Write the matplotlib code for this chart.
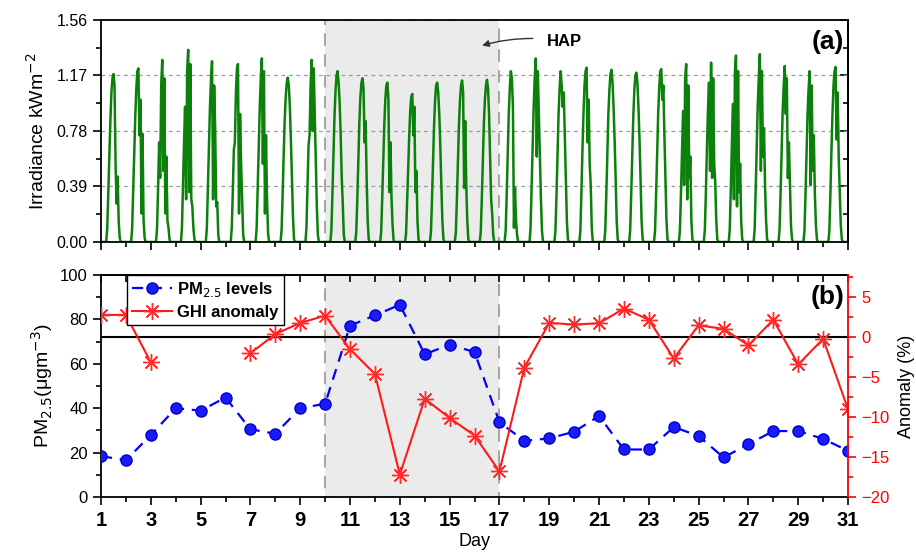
import numpy as np
import matplotlib.pyplot as plt
from matplotlib.patches import Rectangle

plt.rcParams['font.family'] = ['Liberation Sans', 'DejaVu Sans']

# ---- data ----
days = list(range(1, 32))

pm25 = [18.4, 16.6, 27.9, 40.0, 38.9, 44.8, 30.5, 28.5, 40.0, 42.0,
        77.2, 81.8, 86.6, 64.3, 68.6, 65.3, 33.7, 25.3, 26.4, 29.4,
        36.5, 21.4, 21.4, 31.5, 27.5, 17.8, 23.8, 29.7, 29.7, 26.2, 20.8]

# no anomaly values for days 4-6
ghi_anomaly = [2.8, 2.8, -3.15, np.nan, np.nan, np.nan, -2.0, 0.4, 1.8, 2.7,
               -1.5, -4.6, -17.2, -7.7, -10.1, -12.3, -16.8, -3.8, 1.8, 1.6,
               1.75, 3.6, 2.2, -2.65, 1.5, 1.05, -1.0, 2.2, -3.4, -0.2, -9.0]

# hourly irradiance (kW/m2), hours 06..18, one row per day (days 1..30)
irr_hours = list(range(6, 19))
irradiance = [
    [0.10, 0.35, 0.60, 0.85, 1.05, 1.15, 1.18, 1.10, 0.55, 0.27, 0.46, 0.15, 0.03],
    [0.10, 0.35, 0.62, 0.88, 1.08, 1.20, 1.22, 0.75, 1.00, 0.20, 0.76, 0.15, 0.03],
    [0.10, 0.38, 0.70, 0.45, 1.10, 1.28, 0.50, 1.15, 0.20, 0.60, 0.15, 0.10, 0.02],
    [0.10, 0.40, 0.70, 0.95, 0.30, 1.20, 1.35, 0.35, 1.25, 0.30, 0.25, 0.10, 0.02],
    [0.10, 0.38, 0.68, 0.95, 1.15, 1.27, 0.30, 1.10, 0.80, 0.25, 0.28, 0.05, 0.00],
    [0.10, 0.35, 0.65, 0.70, 1.05, 1.22, 1.25, 0.20, 0.90, 0.55, 0.30, 0.05, 0.00],
    [0.10, 0.38, 0.68, 0.95, 1.15, 1.29, 0.55, 1.20, 0.20, 0.75, 0.30, 0.06, 0.00],
    [0.08, 0.32, 0.60, 0.85, 1.02, 1.12, 1.155, 1.10, 0.95, 0.72, 0.45, 0.18, 0.02],
    [0.10, 0.38, 0.68, 0.75, 1.10, 1.28, 0.78, 1.22, 0.90, 0.55, 0.25, 0.05, 0.00],
    [0.08, 0.33, 0.62, 0.88, 1.06, 1.17, 1.20, 1.12, 0.98, 0.75, 0.45, 0.27, 0.05],
    [0.07, 0.30, 0.58, 0.84, 1.02, 1.12, 1.15, 1.08, 0.70, 0.85, 0.45, 0.15, 0.02],
    [0.07, 0.30, 0.56, 0.82, 1.00, 1.10, 1.12, 1.00, 0.35, 0.70, 0.30, 0.12, 0.01],
    [0.06, 0.27, 0.50, 0.74, 0.92, 1.02, 1.04, 0.75, 0.95, 0.35, 0.50, 0.15, 0.02],
    [0.07, 0.30, 0.56, 0.82, 1.00, 1.10, 1.12, 1.05, 0.90, 0.68, 0.40, 0.15, 0.02],
    [0.07, 0.30, 0.57, 0.83, 1.00, 1.10, 1.135, 1.05, 0.38, 0.85, 0.40, 0.15, 0.02],
    [0.07, 0.30, 0.57, 0.83, 1.00, 1.10, 1.14, 1.08, 0.90, 0.60, 0.30, 0.20, 0.05],
    [0.08, 0.33, 0.62, 0.90, 1.08, 1.20, 1.15, 0.95, 0.10, 0.38, 0.15, 0.05, 0.00],
    [0.10, 0.38, 0.68, 0.95, 1.15, 1.29, 0.60, 1.20, 0.90, 0.60, 0.30, 0.08, 0.00],
    [0.08, 0.33, 0.62, 0.90, 1.08, 1.20, 1.10, 0.95, 1.05, 0.75, 0.45, 0.15, 0.02],
    [0.08, 0.34, 0.64, 0.90, 1.10, 1.20, 1.225, 0.70, 1.00, 0.55, 0.40, 0.10, 0.00],
    [0.08, 0.33, 0.62, 0.90, 1.07, 1.18, 1.21, 1.12, 0.95, 0.72, 0.45, 0.15, 0.02],
    [0.08, 0.33, 0.62, 0.88, 1.06, 1.17, 1.19, 1.12, 0.95, 0.72, 0.45, 0.15, 0.02],
    [0.08, 0.33, 0.62, 0.90, 1.08, 1.20, 1.215, 1.00, 1.10, 0.75, 0.45, 0.15, 0.02],
    [0.09, 0.35, 0.65, 0.92, 0.40, 1.15, 1.25, 0.30, 1.10, 0.45, 0.60, 0.15, 0.02],
    [0.09, 0.35, 0.66, 0.93, 1.12, 0.50, 1.26, 0.45, 1.15, 0.55, 0.42, 0.15, 0.02],
    [0.09, 0.37, 0.68, 0.97, 0.30, 1.20, 1.31, 0.25, 1.20, 0.35, 0.55, 0.15, 0.02],
    [0.09, 0.37, 0.68, 0.97, 1.16, 1.32, 0.50, 1.20, 0.60, 0.80, 0.40, 0.15, 0.02],
    [0.09, 0.35, 0.65, 0.92, 1.10, 1.237, 0.90, 1.15, 0.45, 0.70, 0.40, 0.12, 0.02],
    [0.08, 0.33, 0.62, 0.90, 1.08, 1.20, 0.40, 1.10, 0.50, 0.75, 0.35, 0.12, 0.02],
    [0.08, 0.34, 0.64, 0.90, 1.10, 1.20, 1.23, 0.72, 1.05, 0.60, 0.35, 0.12, 0.02],
]

hap_start, hap_end = 10, 17

# build continuous time series (zero at night)
t_irr, v_irr = [], []
for i, prof in enumerate(irradiance):
    d = days[i]
    hrs = [5] + irr_hours + [19]
    vals = [0.0] + prof + [0.0]
    for h, val in zip(hrs, vals):
        t_irr.append(d + h / 24.0)
        v_irr.append(val)
t_irr = [days[0]] + t_irr + [days[-1]]
v_irr = [0.0] + v_irr + [0.0]

fig = plt.figure(figsize=(9.16, 5.58), dpi=100)
ax1 = fig.add_axes([0.1103, 0.5663, 0.8155, 0.3979])
ax2 = fig.add_axes([0.1103, 0.1093, 0.8155, 0.3979])

shade = '#ebebeb'
dash_grey = '#a8a8a8'

# ---- (a) irradiance ----
ax1.add_patch(Rectangle((hap_start, 0), hap_end - hap_start, 1.56, facecolor=shade,
                        edgecolor=dash_grey, linestyle=(0, (6, 4)), linewidth=1.5, zorder=0))
for yv in [0.39, 0.78, 1.17]:
    ax1.axhline(yv, color='#9a9a9a', linestyle=(0, (3, 3)), linewidth=0.9, zorder=1)
ax1.plot(t_irr, v_irr, color='#0b800b', linewidth=1.8, zorder=2)
ax1.set_xlim(1, 31)
ax1.set_ylim(0, 1.56)
ax1.set_yticks([0, 0.39, 0.78, 1.17, 1.56])
ax1.set_yticklabels(['0.00', '0.39', '0.78', '1.17', '1.56'])
ax1.set_yticks(np.arange(0.195, 1.56, 0.39), minor=True)
ax1.set_xticks(range(1, 32, 2))
ax1.set_xticks(range(2, 31, 2), minor=True)
ax1.tick_params(axis='x', which='both', labelbottom=False, direction='out')
ax1.tick_params(axis='x', which='major', length=6, width=1.2)
ax1.tick_params(axis='x', which='minor', length=3.5, width=1.2)
ax1.tick_params(axis='y', which='major', direction='out', length=6, width=1.2, labelsize=11.5)
ax1.tick_params(axis='y', which='minor', direction='out', length=3.5, width=1.2)
ax1r = ax1.secondary_yaxis('right')
ax1r.set_yticks([0, 0.39, 0.78, 1.17, 1.56])
ax1r.set_yticks(np.arange(0.195, 1.56, 0.39), minor=True)
ax1r.tick_params(which='both', direction='in', labelright=False, width=1.2)
ax1r.tick_params(which='major', length=6)
ax1r.tick_params(which='minor', length=3.5)
for s in ax1.spines.values():
    s.set_linewidth(1.3)
ax1r.spines['right'].set_linewidth(1.3)
ax1.set_ylabel('Irradiance kWm$^{-2}$', fontsize=14, labelpad=6)
ax1.annotate('', xy=(16.2, 1.375), xytext=(18.45, 1.43),
             arrowprops=dict(arrowstyle='-|>', color='#333333', lw=1.0,
                             mutation_scale=10, connectionstyle='arc3,rad=0.08'))
ax1.text(18.9, 1.41, 'HAP', fontsize=12, fontweight='bold', ha='left', va='center')
ax1.text(0.995, 0.90, '(a)', transform=ax1.transAxes, fontsize=19, fontweight='bold',
         ha='right', va='center')

# ---- (b) PM2.5 and GHI anomaly ----
ax2.add_patch(Rectangle((hap_start, 0), hap_end - hap_start, 100, facecolor=shade,
                        edgecolor=dash_grey, linestyle=(0, (6, 4)), linewidth=1.5, zorder=0))
pm_line, = ax2.plot(days, pm25, color='#0000ff', linestyle=(0, (5, 3.5)), linewidth=1.6,
                    marker='o', markersize=8, markerfacecolor='#1a1aff',
                    markeredgecolor='#0000cc', zorder=3)
ax2.set_xlim(1, 31)
ax2.set_ylim(0, 100)
ax2.set_yticks(range(0, 101, 20))
ax2.set_yticks(range(10, 100, 20), minor=True)
ax2.set_xticks(range(1, 32, 2))
ax2.set_xticks(range(2, 31, 2), minor=True)
ax2.tick_params(axis='x', which='major', direction='out', length=6, width=1.2,
                labelsize=14.5, pad=4)
ax2.tick_params(axis='x', which='minor', direction='out', length=3.5, width=1.2)
ax2.tick_params(axis='y', which='major', direction='out', length=6, width=1.2, labelsize=12)
ax2.tick_params(axis='y', which='minor', direction='out', length=3.5, width=1.2)
for lab in ax2.get_xticklabels():
    lab.set_fontweight('bold')
ax2t = ax2.secondary_xaxis('top')
ax2t.set_xticks(range(1, 32, 2))
ax2t.set_xticks(range(2, 31, 2), minor=True)
ax2t.tick_params(which='both', direction='in', labeltop=False, length=5, width=1.2)
ax2t.spines['top'].set_linewidth(1.3)
for s in ax2.spines.values():
    s.set_linewidth(1.3)
ax2.spines['right'].set_visible(False)
ax2.set_ylabel('PM$_{2.5}$(μgm$^{-3}$)', fontsize=14, labelpad=4)
ax2.set_xlabel('Day', fontsize=13, labelpad=2)

ax3 = ax2.twinx()
ax3.axhline(0, color='black', linewidth=1.5, zorder=1)
ghi_line, = ax3.plot(days, ghi_anomaly, color='#ff1a1a', linewidth=1.5,
                     marker=(8, 2, 0), markersize=12, markeredgewidth=1.0,
                     markeredgecolor='#ff2a2a', zorder=2)
ax3.set_ylim(-20, 7.8)
ax3.set_yticks(range(-20, 6, 5))
ax3.set_yticks(np.arange(-17.5, 8, 5), minor=True)
ax3.spines['right'].set_color('#ff0000')
ax3.spines['right'].set_linewidth(1.3)
for side in ['left', 'top', 'bottom']:
    ax3.spines[side].set_visible(False)
ax3.tick_params(axis='y', which='both', colors='#ff0000', direction='out', width=1.2)
ax3.tick_params(axis='y', which='major', length=6, labelsize=12)
ax3.tick_params(axis='y', which='minor', length=3.5)
ax3.set_ylabel('Anomaly (%)', fontsize=13, color='black', labelpad=6)
ax3.text(0.995, 0.90, '(b)', transform=ax3.transAxes, fontsize=19, fontweight='bold',
         ha='right', va='center')

leg = ax3.legend([pm_line, ghi_line], ['PM$_{2.5}$ levels', 'GHI anomaly'],
                 loc='upper left', bbox_to_anchor=(0.035, 1.0), borderaxespad=0,
                 frameon=True, fancybox=False, edgecolor='black', framealpha=1,
                 handlelength=2.4, borderpad=0.3, labelspacing=0.35, handletextpad=0.3,
                 prop={'weight': 'bold', 'size': 12})
leg.get_frame().set_linewidth(1.0)

fig.savefig('out.png', dpi=100, facecolor='white')
